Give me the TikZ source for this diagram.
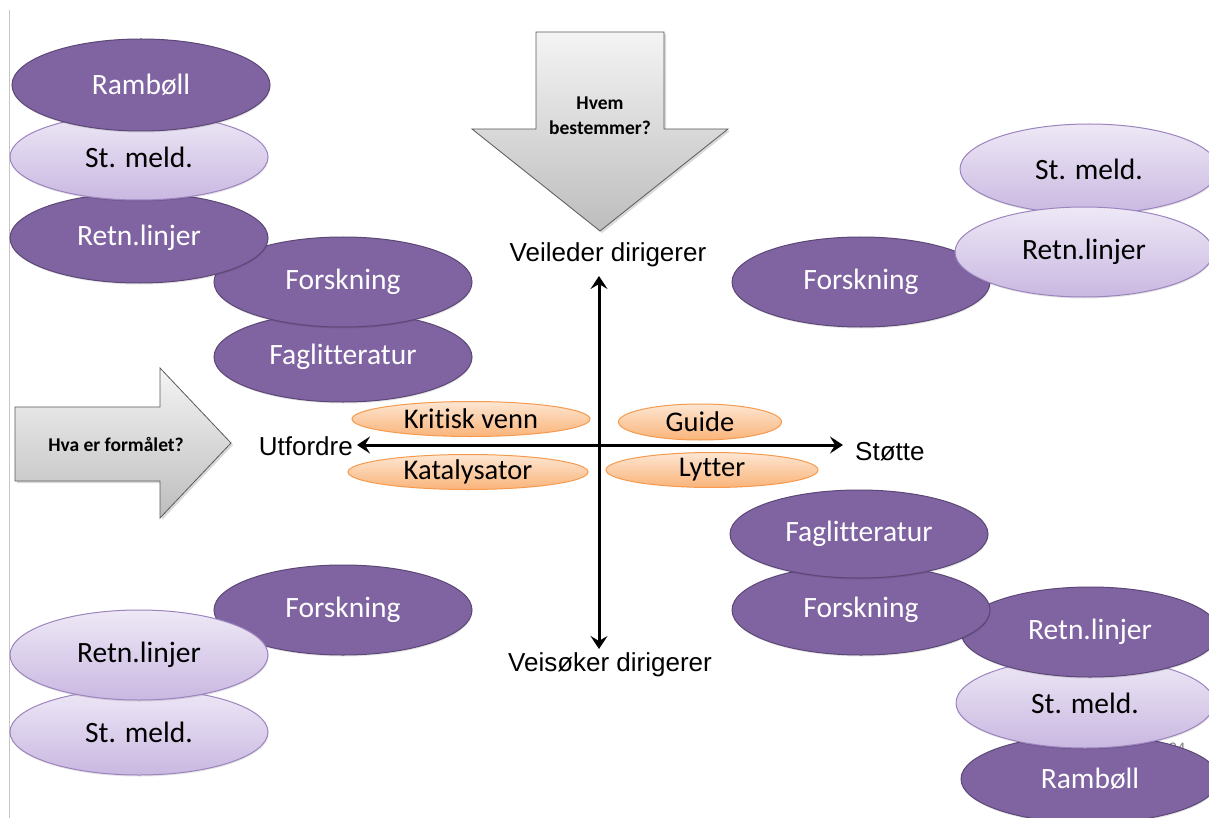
\documentclass[tikz,border=0pt]{standalone}
\usepackage{fontspec}
\setmainfont{Carlito}[Ligatures={NoCommon,NoContextual}]
\newfontfamily\arialf{Liberation Sans}
\usetikzlibrary{shapes.geometric,arrows.meta,shadows}
\definecolor{dpfill}{HTML}{8064A2}
\definecolor{dpdraw}{HTML}{5C4776}
\definecolor{lptop}{HTML}{EEE8F6}
\definecolor{lpbot}{HTML}{C9B8E1}
\definecolor{lpdraw}{HTML}{9C84BE}
\definecolor{ortop}{HTML}{FDE6D2}
\definecolor{orbot}{HTML}{FAB47A}
\definecolor{ordraw}{HTML}{F59A4E}
\definecolor{grtop}{HTML}{F4F4F4}
\definecolor{grbot}{HTML}{BDBDBD}
\definecolor{grdraw}{HTML}{5A5A5A}
\tikzset{
  oval/.style={ellipse, inner sep=0pt, minimum width=258pt, minimum height=90pt,
    font=\fontsize{29.5}{32}\selectfont, line width=1pt,
    drop shadow={shadow xshift=0.5pt, shadow yshift=-1.5pt, opacity=0.1, fill=black}},
  darkoval/.style={oval, fill=dpfill, draw=dpdraw, text=white},
  lightoval/.style={oval, draw=lpdraw, top color=lptop, bottom color=lpbot, text=black},
  roleoval/.style={ellipse, inner sep=0pt, minimum height=35pt, line width=1pt,
    draw=ordraw, top color=ortop, bottom color=orbot, text=black,
    font=\fontsize{28.5}{30}\selectfont},
  axislabel/.style={font=\arialf\fontsize{26}{28}\selectfont, inner sep=0pt},
  axis/.style={line width=3pt, {Stealth[length=13pt,width=17pt,inset=5pt]}-{Stealth[length=13pt,width=17pt,inset=5pt]}},
  bigarrow/.style={draw=grdraw, line width=0.8pt, top color=grtop, bottom color=grbot,
    drop shadow={shadow xshift=2pt, shadow yshift=-2pt, opacity=0.15, fill=black}},
  arrowtext/.style={font=\bfseries\fontsize{19.5}{22}\selectfont, align=center, inner sep=0pt}
}
\begin{document}
\begin{tikzpicture}[x=1pt,y=-1pt]
\useasboundingbox (0,0) rectangle (1209,818);
\clip (0,0) rectangle (1209,818);
\fill[white] (0,0) rectangle (1209,818);
% slide edge
\draw[gray!45, line width=1pt] (9.5,10) -- (9.5,818);

% page number (mostly hidden)
\node[text=gray, font=\arialf\fontsize{15}{16}\selectfont] (pg) at (1177,748) {24};

% big arrows
\path[bigarrow] (536,32) -- (664,32) -- (664,129) -- (728,129) -- (600,231) -- (472,129) -- (536,129) -- cycle;
\node[arrowtext] (hvem) at (600,116) {Hvem\\[3pt]bestemmer?};
\path[bigarrow] (15,407) -- (160,407) -- (160,368) -- (231,443) -- (160,518) -- (160,481) -- (15,481) -- cycle;
\node[arrowtext] (formaal) at (116,445) {Hva er formålet?};

% top-left stack
\node[darkoval] (tlfag) at (343,357) {Faglitteratur};
\node[darkoval] (tlfor) at (343,282) {Forskning};
\node[darkoval] (tlret) at (139,238) {Retn.linjer};
\node[lightoval, minimum height=86pt] (tlst) at (139,157) {St. meld.};
\node[darkoval, minimum height=92pt] (tlram) at (141,85) {Rambøll};

% top-right stack
\node[darkoval] (trfor) at (861,282) {Forskning};
\node[lightoval] (trst) at (1089,169) {St. meld.};
\node[lightoval] (trret) at (1084,252) {Retn.linjer};

% bottom-left stack
\node[darkoval] (blfor) at (343,610) {Forskning};
\node[lightoval, minimum height=86pt] (blst) at (139,732) {St. meld.};
\node[lightoval] (blret) at (139,655) {Retn.linjer};

% bottom-right stack
\node[darkoval, minimum height=88pt] (brram) at (1090,779) {Rambøll};
\node[lightoval] (brst) at (1085,703) {St. meld.};
\node[darkoval] (brret) at (1090,632) {Retn.linjer};
\node[darkoval] (brfor) at (861,610) {Forskning};
\node[darkoval, minimum height=88pt] (brfag) at (859,534) {Faglitteratur};

% axes
\coordinate (c) at (599,445);
\coordinate (ytop) at (599,276);
\coordinate (ybot) at (599,649);
\coordinate (xl) at (357,445);
\coordinate (xr) at (843,445);
\draw[axis] (ybot) -- (ytop);
\draw[axis] (xl) -- (xr);
\node[axislabel] (veil) at (608,255) {Veileder dirigerer};
\node[axislabel] (veis) at (610,665) {Veisøker dirigerer};
\node[axislabel, anchor=east] (utf) at (353,446) {Utfordre};
\node[axislabel, anchor=west] (stot) at (855,452) {Støtte};

% roles
\node[roleoval, minimum width=238pt] (kritisk) at (471,419) {Kritisk venn};
\node[roleoval, minimum width=163pt, minimum height=36pt] (guide) at (700,422) {Guide};
\node[roleoval, minimum width=240pt] (kat) at (468,472) {Katalysator};
\node[roleoval, minimum width=212pt] (lytter) at (712,470) {Lytter};
\end{tikzpicture}
\end{document}
